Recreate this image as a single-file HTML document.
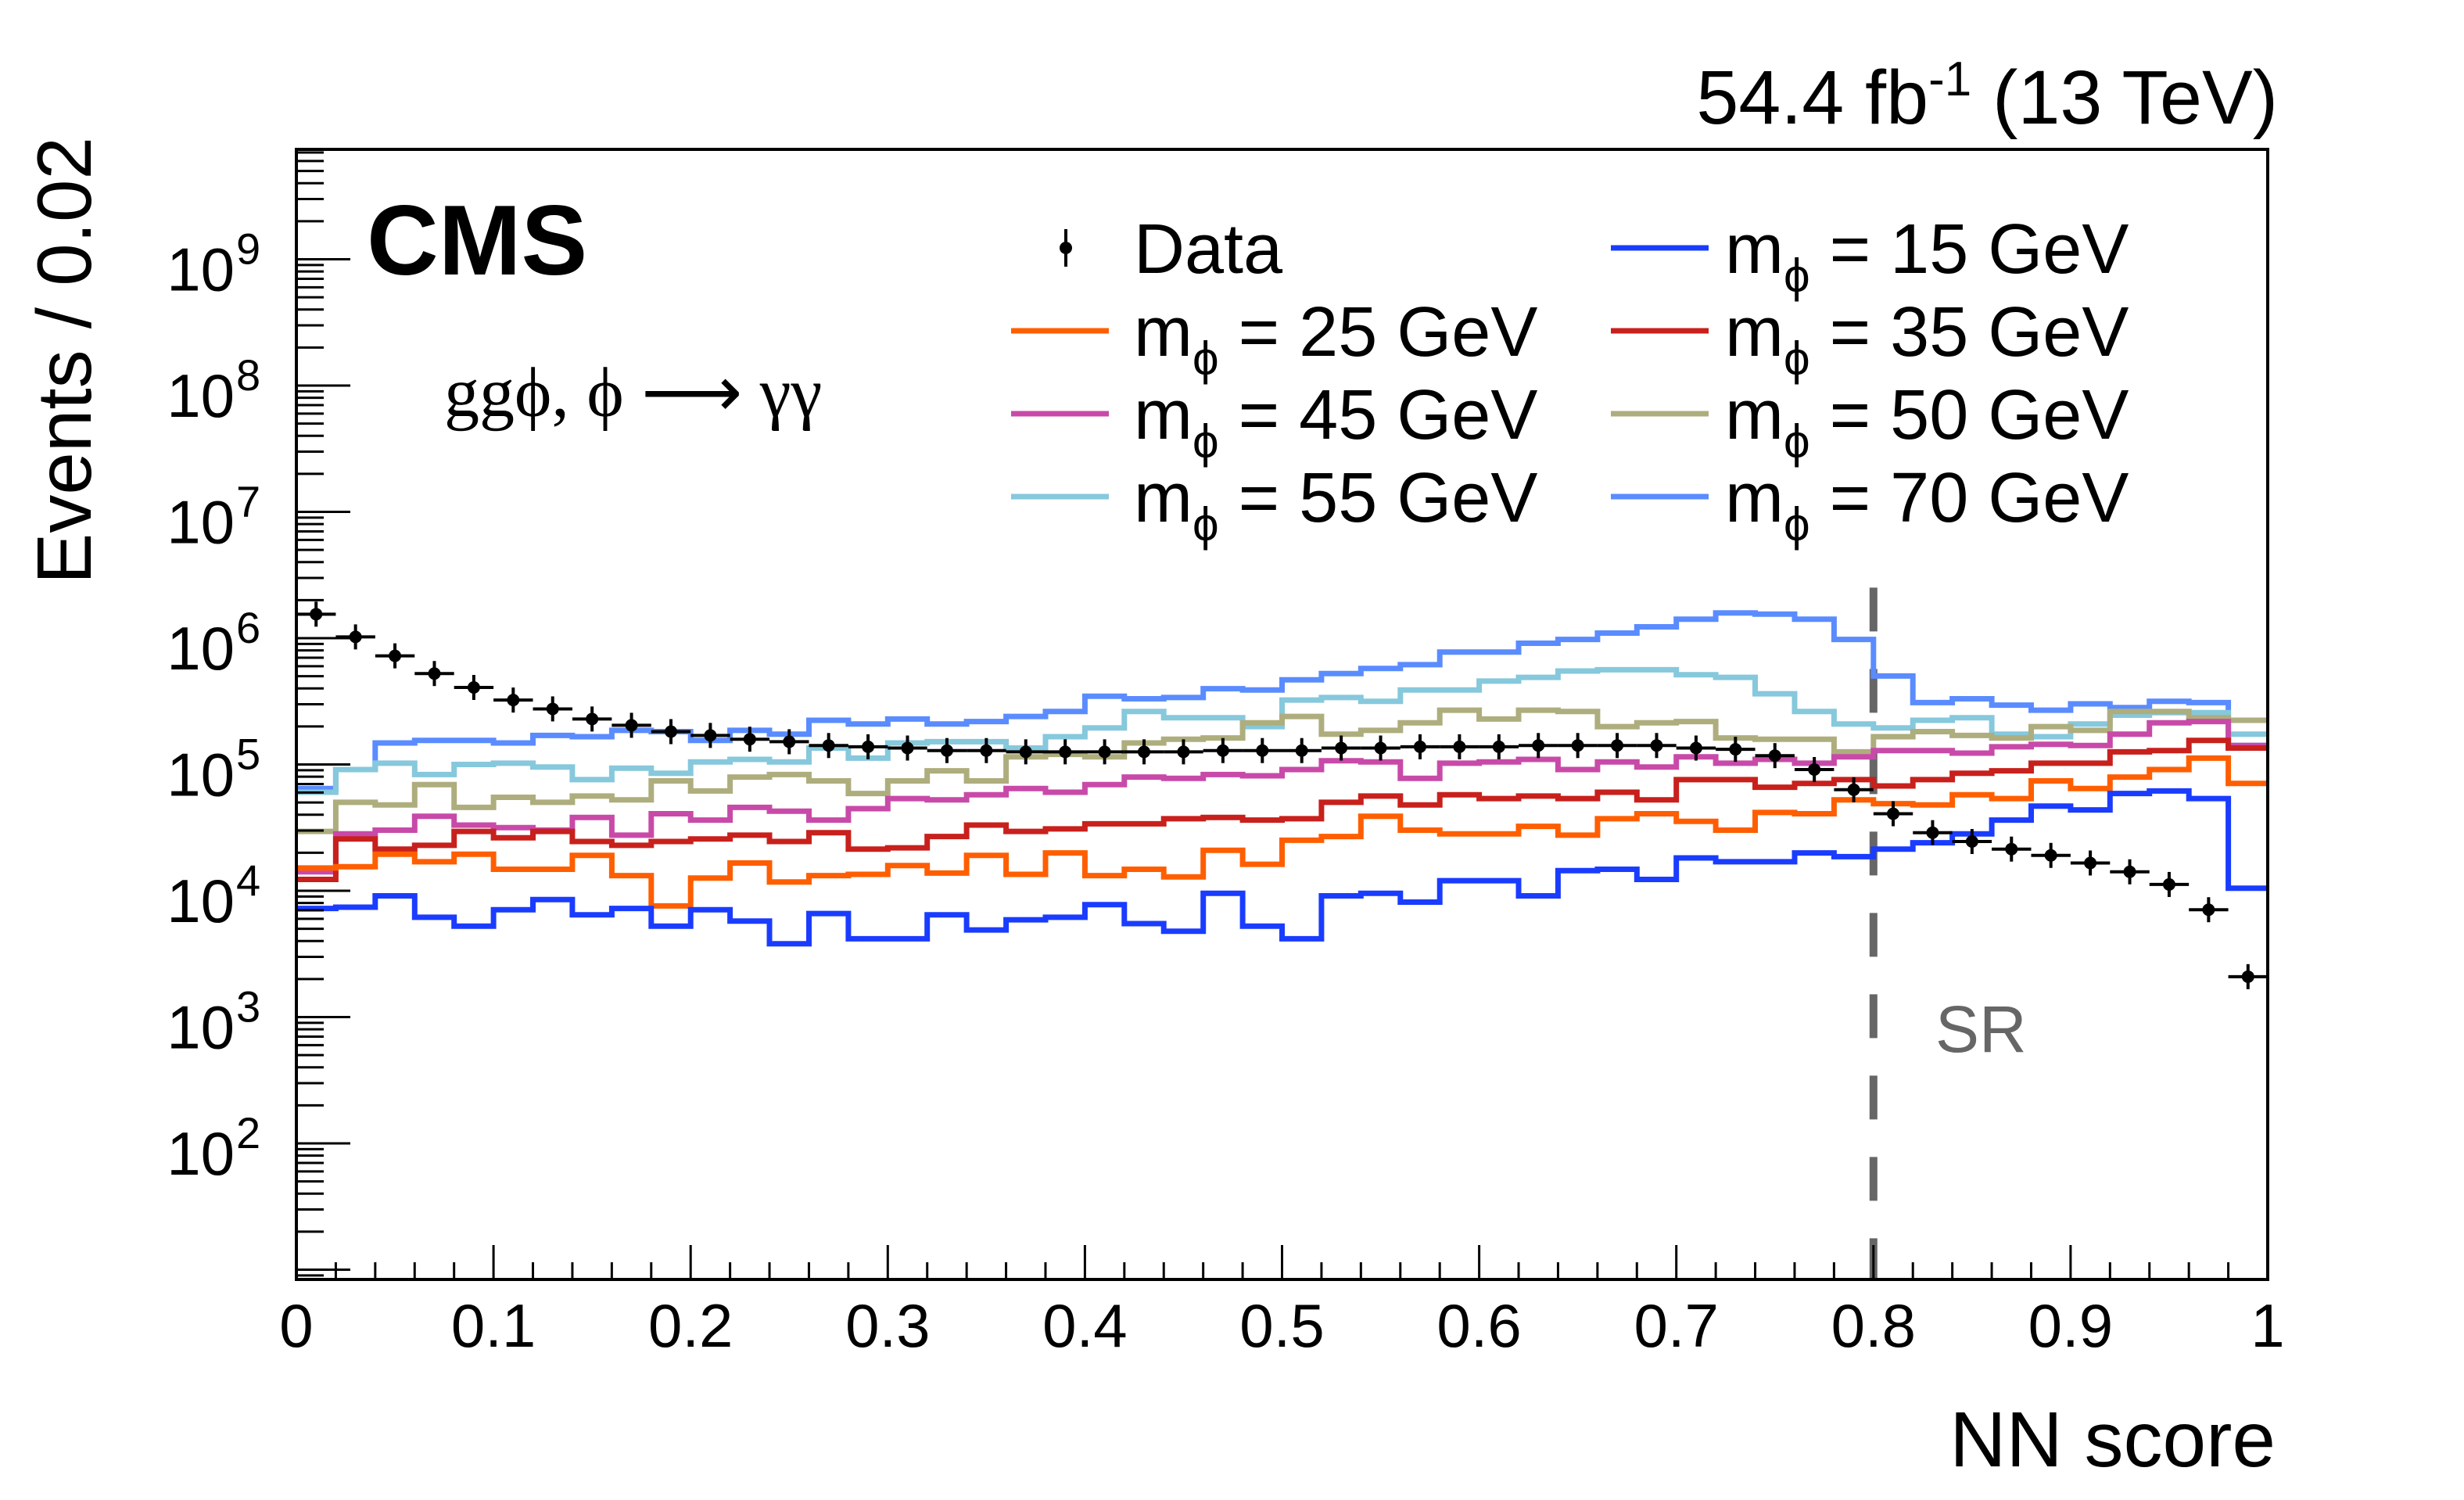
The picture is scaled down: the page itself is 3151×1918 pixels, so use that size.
<!DOCTYPE html>
<html><head><meta charset="utf-8"><title>NN score</title>
<style>
html,body{margin:0;padding:0;background:#fff;}
svg{display:block;font-family:"Liberation Sans",sans-serif;}
</style></head>
<body>
<svg id="chart" width="3151" height="1918" viewBox="0 0 3151 1918" xmlns="http://www.w3.org/2000/svg">
<rect x="0" y="0" width="3151" height="1918" fill="#fff"/>
<g id="series"></g>
<g id="axes"></g>
<text x="2913" y="158" font-size="97" text-anchor="end">54.4 fb<tspan dy="-36" font-size="62">-1</tspan><tspan dy="36"> (13 TeV)</tspan></text>
<text x="469" y="351" font-size="127" font-weight="bold">CMS</text>
<text x="568" y="532" font-size="90" font-family="'Liberation Serif',serif">ggϕ, ϕ ⟶ γγ</text>
<text transform="translate(116,175) rotate(-90)" font-size="98" text-anchor="end">Events / 0.02</text>
<text x="2910" y="1875" font-size="100" text-anchor="end">NN score</text>
<text x="2475" y="1345" font-size="84" fill="#666">SR</text>
<g id="legend"></g>
</svg>
<script>
// Data: log10(events) per bin, 50 bins of width 0.02
const binEdgesStart = 0, binWidth = 0.02;
const dataLog = [6.19,6.01,5.86,5.72,5.61,5.51,5.44,5.36,5.31,5.26,5.23,5.20,5.18,5.15,5.14,5.13,5.11,5.11,5.10,5.10,5.10,5.10,5.10,5.11,5.11,5.11,5.13,5.13,5.14,5.14,5.14,5.15,5.15,5.15,5.15,5.13,5.12,5.07,4.96,4.80,4.61,4.46,4.39,4.33,4.28,4.22,4.15,4.05,3.85,3.32];
const m15Log = [3.86,3.87,3.96,3.79,3.72,3.85,3.93,3.81,3.86,3.72,3.85,3.76,3.58,3.82,3.62,3.62,3.81,3.69,3.77,3.79,3.89,3.74,3.68,3.98,3.72,3.62,3.96,3.98,3.91,4.08,4.08,3.96,4.16,4.17,4.09,4.26,4.23,4.23,4.30,4.27,4.33,4.38,4.45,4.56,4.67,4.64,4.77,4.79,4.73,4.02];
const m25Log = [4.18,4.19,4.29,4.23,4.29,4.17,4.17,4.28,4.12,3.88,4.10,4.22,4.07,4.12,4.13,4.20,4.14,4.28,4.13,4.30,4.12,4.17,4.11,4.32,4.21,4.40,4.43,4.59,4.48,4.45,4.45,4.51,4.44,4.57,4.61,4.55,4.48,4.62,4.61,4.72,4.69,4.68,4.76,4.73,4.87,4.81,4.90,4.96,5.05,4.85];
const m35Log = [4.09,4.41,4.33,4.36,4.47,4.42,4.47,4.39,4.36,4.39,4.41,4.44,4.39,4.46,4.33,4.34,4.43,4.52,4.47,4.49,4.53,4.53,4.57,4.58,4.56,4.57,4.70,4.75,4.68,4.76,4.73,4.75,4.73,4.78,4.72,4.88,4.88,4.82,4.85,4.88,4.83,4.88,4.93,4.95,5.01,5.01,5.10,5.11,5.19,5.13];
const m45Log = [4.15,4.45,4.48,4.59,4.52,4.50,4.48,4.58,4.44,4.61,4.56,4.66,4.63,4.56,4.65,4.73,4.72,4.76,4.81,4.78,4.84,4.90,4.89,4.92,4.91,4.96,5.03,5.02,4.89,5.01,5.02,5.04,4.96,5.02,4.98,5.06,5.01,5.04,5.01,5.06,5.11,5.11,5.09,5.14,5.16,5.15,5.24,5.33,5.34,5.15];
const m50Log = [4.47,4.70,4.68,4.84,4.66,4.74,4.70,4.75,4.72,4.87,4.79,4.90,4.92,4.87,4.77,4.87,4.95,4.87,5.06,5.08,5.06,5.17,5.20,5.21,5.33,5.38,5.24,5.27,5.33,5.43,5.36,5.43,5.42,5.30,5.33,5.34,5.21,5.20,5.20,5.10,5.22,5.26,5.23,5.21,5.30,5.27,5.42,5.42,5.37,5.35];
const m55Log = [4.78,4.96,5.01,4.92,5.00,5.01,4.98,4.88,4.97,4.93,5.02,5.04,5.02,5.13,5.05,5.17,5.18,5.18,5.13,5.22,5.29,5.42,5.37,5.37,5.30,5.51,5.53,5.50,5.59,5.59,5.66,5.69,5.74,5.75,5.75,5.71,5.69,5.56,5.42,5.32,5.29,5.35,5.37,5.24,5.22,5.32,5.39,5.41,5.41,5.24];
const m70Log = [4.81,4.96,5.17,5.19,5.19,5.17,5.23,5.22,5.27,5.26,5.19,5.27,5.24,5.35,5.32,5.36,5.32,5.34,5.38,5.42,5.54,5.52,5.53,5.60,5.59,5.67,5.72,5.76,5.79,5.89,5.89,5.96,5.99,6.04,6.09,6.15,6.20,6.19,6.15,5.99,5.70,5.49,5.52,5.47,5.43,5.48,5.45,5.50,5.49,5.15];
const xTickLabels = ["0","0.1","0.2","0.3","0.4","0.5","0.6","0.7","0.8","0.9","1"];
const yTickExponents = [2,3,4,5,6,7,8,9];
const seriesNames = ["15","25","35","45","50","55","70"];
const seriesColors = ["#1a3cff","#ff5e00","#c8201c","#c84aa8","#aead7d","#86c8dc","#5a8cff"];
const srCut = 0.8;

const NS="http://www.w3.org/2000/svg";
const PL=379, PR=2900, PT=191, PB=1636;
const Y9=331.5, DEC=161.5;
const xs = v => PL + (v-0)/(1-0)*(PR-PL);
const ys = L => Y9 + (9-L)*DEC;
function mk(tag, attrs, parent){const e=document.createElementNS(NS,tag);for(const k in attrs)e.setAttribute(k,attrs[k]);parent.appendChild(e);return e;}
const gS=document.getElementById('series'), gA=document.getElementById('axes'), gL=document.getElementById('legend');

const sr=mk('line',{x1:xs(srCut),x2:xs(srCut),y1:ys(6.4),y2:PB,stroke:'#666','stroke-width':10,'stroke-dasharray':'56 48'},gS);



const allSeries=[m15Log,m25Log,m35Log,m45Log,m50Log,m55Log,m70Log];
const drawOrder=[6,5,4,3,2,1,0];
drawOrder.forEach(si=>{
  const arr=allSeries[si];
  let d='';
  arr.forEach((L,i)=>{
    const x0=xs(binEdgesStart+i*binWidth), x1=xs(binEdgesStart+(i+1)*binWidth), y=ys(L);
    d += (i===0?'M':'L')+x0.toFixed(1)+','+y.toFixed(1)+'L'+x1.toFixed(1)+','+y.toFixed(1);
  });
  const p=mk('path',{d:d,fill:'none',stroke:seriesColors[si],'stroke-width':7,'stroke-linejoin':'miter'},gS);
  
  
});

dataLog.forEach((L,i)=>{
  const cx=xs(binEdgesStart+(i+0.5)*binWidth), y=ys(L);
  const g=mk('g',{},gS);
  
  
  mk('line',{x1:xs(i*binWidth),x2:xs((i+1)*binWidth),y1:y,y2:y,stroke:'#000','stroke-width':4},g);
  mk('line',{x1:cx,x2:cx,y1:y-16,y2:y+16,stroke:'#000','stroke-width':4},g);
  mk('circle',{cx:cx,cy:y,r:8,fill:'#000'},g);
});

const fr=mk('rect',{x:PL,y:PT,width:PR-PL,height:PB-PT,fill:'none',stroke:'#000','stroke-width':4},gA);



for(let i=0;i<=50;i++){
  const x=xs(i*0.02), major=(i%5===0);
  mk('line',{x1:x,x2:x,y1:PB,y2:PB-(major?44:22),stroke:'#000','stroke-width':3},gA);
}
xTickLabels.forEach((t,i)=>{
  const tx=mk('text',{x:xs(i*0.1),y:1722,'font-size':78,'text-anchor':'middle'},gA);
  tx.textContent=t;
  
  
});
for(let e=0;e<=9;e++){
  for(let m=1;m<=9;m++){
    const L=e+Math.log10(m);
    const y=ys(L);
    if(y<PT||y>PB-4)continue;
    mk('line',{x1:PL,x2:PL+(m===1?69:35),y1:y,y2:y,stroke:'#000','stroke-width':3},gA);
  }
}
yTickExponents.forEach(e=>{
  const y=ys(e);
  const tx=mk('text',{x:300,y:y+40,'font-size':78,'text-anchor':'end'},gA);
  tx.textContent='10';
  
  
  const sp=mk('text',{x:302,y:y+6,'font-size':56,'text-anchor':'start'},gA);
  sp.textContent=String(e);
  
  
});

const rowY=[317,423,529,635];
const legData=mk('g',{},gL);


mk('line',{x1:1363,x2:1363,y1:rowY[0]-24,y2:rowY[0]+24,stroke:'#000','stroke-width':4},legData);
mk('circle',{cx:1363,cy:rowY[0],r:8,fill:'#000'},legData);
const dt=mk('text',{x:1450,y:rowY[0]+32,'font-size':90},legData);dt.textContent='Data';
const legPos=[[1,0],[0,1],[1,1],[0,2],[1,2],[0,3],[1,3]];
legPos.forEach((pc,si)=>{
  const col=pc[0], row=pc[1];
  const lx=col?2060:1293, tx=col?2206:1450, y=rowY[row];
  const g=mk('g',{},gL);
  
  
  mk('line',{x1:lx,x2:lx+125,y1:y,y2:y,stroke:seriesColors[si],'stroke-width':7},g);
  const t=mk('text',{x:tx,y:y+32,'font-size':90},g);
  t.innerHTML='m<tspan dy="24" font-size="60">ϕ</tspan><tspan dy="-24"> = '+seriesNames[si]+' GeV</tspan>';
});
</script>
</body></html>
